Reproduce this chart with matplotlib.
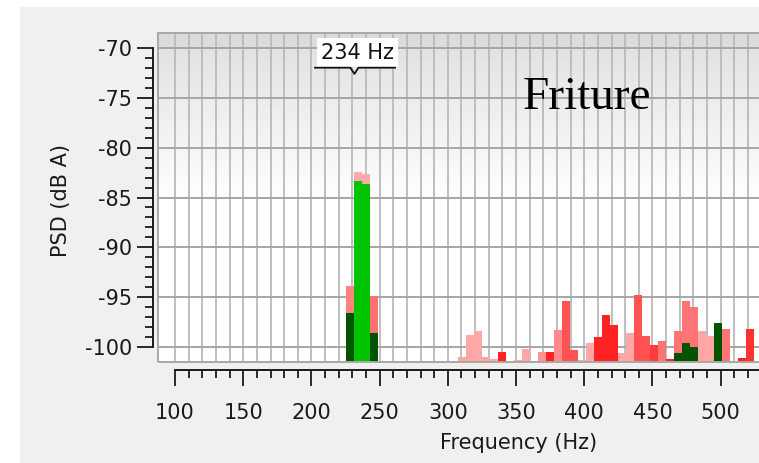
import numpy as np
import matplotlib
matplotlib.use("Agg")
import matplotlib.pyplot as plt
from matplotlib.ticker import FixedLocator
from matplotlib.patches import Rectangle

plt.rcParams['font.family'] = ['DejaVu Sans']
plt.rcParams['axes.unicode_minus'] = False

# spectrum bins (Hz), back series (red shades)
freqs_red = [228.5, 234.4, 240.2, 246.1, 310.5, 316.4, 322.3, 328.1, 334.0, 339.8,
             351.6, 357.4, 369.1, 375.0, 380.9, 386.7, 392.6, 398.4, 404.3, 410.2,
             416.0, 421.9, 427.7, 433.6, 439.5, 445.3, 451.2, 457.0, 462.9, 468.8,
             474.6, 480.5, 486.3, 492.2, 503.9, 515.6, 521.5]
psd_red = [-93.9, -82.4, -82.6, -94.9, -101.0, -98.8, -98.4, -101.0, -101.2, -100.5,
           -101.3, -100.2, -100.5, -100.5, -98.3, -95.4, -100.3, -101.3, -99.6, -99.0,
           -96.8, -97.8, -100.6, -98.6, -94.8, -98.9, -99.8, -99.4, -101.2, -98.4,
           -95.4, -96.0, -98.4, -98.9, -98.2, -101.1, -98.2]
# front series (green shades)
freqs_green = [228.5, 234.4, 240.2, 246.1, 468.8, 474.6, 480.5, 498.0]
psd_green = [-96.6, -83.3, -83.6, -98.6, -100.6, -99.6, -100.0, -97.6]

x_ticks = [100, 150, 200, 250, 300, 350, 400, 450, 500]
peak_label = "234 Hz"
marker_hz = 231.5

# colours
LP, SA, MR, BR = '#ffa6a6', '#ff7474', '#ff5252', '#ff2222'
red_colors = ['#ff8282', '#ffaaaa', '#ffaaaa', '#ff7070', LP, LP, LP, LP, LP, BR,
              LP, LP, '#ff9494', BR, '#ff8a8a', MR, MR, LP, LP, BR,
              BR, BR, LP, LP, MR, MR, '#ff3c3c', SA, BR, SA,
              SA, SA, LP, LP, SA, BR, '#ff3232']
DG, BG = '#005400', '#00c400'
green_colors = [DG, BG, BG, DG, DG, DG, DG, DG]

bin_w = 5.86
base = -103

W, H = 759, 463
fig = plt.figure(figsize=(W / 100, H / 100), dpi=100)
fig.patch.set_facecolor('white')
fig.add_artist(Rectangle((20 / W, 0), 1, 1 - 7 / H, transform=fig.transFigure,
                         facecolor='#f0f0f0', edgecolor='none', zorder=-10))

ax = fig.add_axes([158 / W, (H - 362) / H, 642 / W, 329 / H])
ax.set_xlim(87.5, 558.2)
ax.set_ylim(-101.5, -68.5)

# background gradient (grey header fading to white)
rows = np.ones(329)
rows[:15] = 0.86
fade = np.arange(15, 170)
rows[15:170] = 0.885 + (1 - 0.885) * (fade - 15) / 155
ax.imshow(rows[:, None], extent=[0, 1, 0, 1], transform=ax.transAxes,
          aspect='auto', cmap='gray', vmin=0, vmax=1, zorder=0,
          interpolation='bilinear')

ax.bar(freqs_red, np.array(psd_red) - base, bottom=base, width=bin_w,
       color=red_colors, linewidth=0, zorder=3)
ax.bar(freqs_green, np.array(psd_green) - base, bottom=base, width=bin_w,
       color=green_colors, linewidth=0, zorder=4)

# ticks / grid
ax.xaxis.set_major_locator(FixedLocator(x_ticks))
ax.xaxis.set_minor_locator(FixedLocator(np.arange(100, 558, 10)))
ax.yaxis.set_major_locator(FixedLocator(np.arange(-100, -69, 5)))
ax.yaxis.set_minor_locator(FixedLocator(np.arange(-100, -69, 1)))
ax.grid(axis='x', which='both', color='#bababa', linewidth=1.3, zorder=1)
ax.grid(axis='y', which='major', color='#a6a6a6', linewidth=1.4, zorder=1)

for s in ('top', 'right'):
    ax.spines[s].set_visible(False)
ax.spines['left'].set_position(('outward', 3.6))
ax.spines['left'].set_bounds(-100, -70)
ax.spines['bottom'].set_position(('outward', 5.8))
ax.spines['bottom'].set_bounds(100, 558)
for s in ('left', 'bottom'):
    ax.spines[s].set_color('#1a1a1a')
    ax.spines[s].set_linewidth(1.4)
ax.add_patch(Rectangle((0, 0), 1, 1, transform=ax.transAxes, fill=False,
                       edgecolor='#a8a8a8', linewidth=1.4, zorder=5, clip_on=False))

ax.tick_params(axis='both', which='both', direction='out', color='#1a1a1a',
               width=1.3, labelcolor='#1a1a1a', labelsize=15)
ax.tick_params(axis='y', which='major', length=11.5, pad=3.6)
ax.tick_params(axis='y', which='minor', length=5.8)
ax.tick_params(axis='x', which='major', length=11.5, pad=12)
ax.tick_params(axis='x', which='minor', length=5.8)

ax.set_ylabel('PSD (dB A)', fontsize=15, color='#1a1a1a')
ax.yaxis.set_label_coords(-0.1355, 0.492)
ax.set_xlabel('Frequency (Hz)', fontsize=15, color='#1a1a1a')
ax.xaxis.set_label_coords(0.561, -0.215)

# peak marker
ax.text(marker_hz + 2.5, -70.47, peak_label, fontsize=15, ha='center', va='center',
        color='#111111', zorder=6,
        bbox=dict(boxstyle='square,pad=0.2', fc='white', ec='none'))
ax.plot([202.6, marker_hz - 3, marker_hz, marker_hz + 3, 261.3],
        [-71.98, -71.98, -72.6, -71.98, -71.98], color='#111111', lw=1.3,
        zorder=7, clip_on=False)

fig.text(523 / W, 1 - 109 / H, 'Friture', fontsize=34, family='Liberation Serif',
         ha='left', va='baseline', color='black')

fig.savefig('out.png', dpi=100)
